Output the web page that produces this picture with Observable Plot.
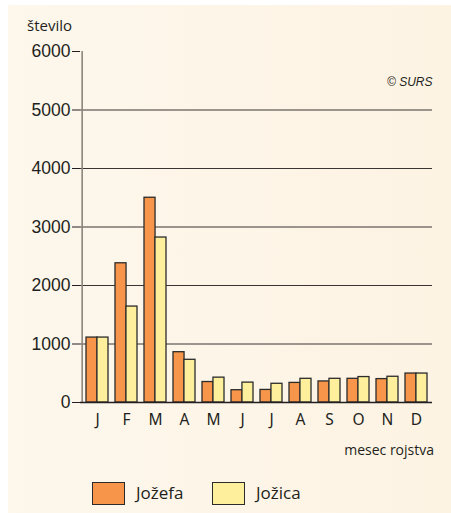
<!DOCTYPE html>
<html>
<head>
<meta charset="utf-8">
<script src="https://cdn.jsdelivr.net/npm/d3@7"></script>
<script src="https://cdn.jsdelivr.net/npm/@observablehq/plot@0.6"></script>
<style>
  html, body { margin: 0; padding: 0; background: #fff; }
  #wrap { position: relative; width: 451px; height: 513px; overflow: hidden; font-family: "Open Sans", "Noto Sans", sans-serif; color: #231f20; }
  #bg { position: absolute; left: 8px; top: 5px; right: 0; bottom: 0; background: linear-gradient(to right, #fdf7ec, #fdf3e3); }
  #chart { position: absolute; left: 0; top: 0; }
  #chart svg { background: transparent !important; }
  .lbl { position: absolute; white-space: nowrap; }
  .sw { position: absolute; width: 31px; height: 21px; border: 1.3px solid #2b2b2b; }
</style>
</head>
<body>
<div id="wrap">
  <div id="bg"></div>
  <div id="chart"></div>
  <div class="lbl" style="left:27px; top:15px; font-size:15px;">število</div>
  <div class="lbl" style="left:387px; top:75px; font-size:12px; font-style:italic; font-family:'Liberation Sans', Arial, sans-serif;">© SURS</div>
  <div class="lbl" style="right:17px; top:440px; font-size:14px;">mesec rojstva</div>
  <div class="sw" style="left:92px; top:482px; background:#f7964a;"></div>
  <div class="lbl" style="left:136px; top:481px; font-size:17px;">Jožefa</div>
  <div class="sw" style="left:212px; top:482px; background:#fdef9c;"></div>
  <div class="lbl" style="left:256px; top:481px; font-size:17px;">Jožica</div>
</div>
<script>
const months = ["J","F","M","A","M","J","J","A","S","O","N","D"];
const jozefa = [1110, 2380, 3500, 860, 350, 210, 215, 335, 360, 405, 400, 495];
const jozica = [1110, 1640, 2820, 730, 425, 340, 320, 405, 405, 435, 440, 495];
const yTicks = [0, 1000, 2000, 3000, 4000, 5000, 6000];
const gridTicks = [1000, 2000, 3000, 4000, 5000];

const width = 451, height = 440;
const mL = 80, mR = 19, mT = 51, mB = 38;
const pInner = 0.25, pOuter = 0.15;
const step = (width - mL - mR) / (months.length - pInner + 2 * pOuter);
const half = step * (1 - pInner) / 2;

const idx = d3.range(months.length);
const dataA = idx.map(i => ({i, v: jozefa[i]}));
const dataB = idx.map(i => ({i, v: jozica[i]}));

const chart = Plot.plot({
  width, height,
  marginLeft: mL, marginRight: mR, marginTop: mT, marginBottom: mB,
  style: {background: "transparent", color: "#231f20"},
  x: {type: "band", domain: idx, paddingInner: pInner, paddingOuter: pOuter, axis: null},
  y: {domain: [0, 6000], axis: null},
  marks: [
    Plot.ruleY(gridTicks, {stroke: "#3a3532", strokeWidth: 1}),
    Plot.ruleX([0], {x: d => d, y1: 0, y2: 6000, dx: -(pOuter * step + half), stroke: "#8c847c", strokeWidth: 1.6}),
    Plot.barY(dataA, {x: "i", y: "v", fill: "#f7964a", stroke: "#2b2b2b", strokeWidth: 1.3, insetRight: half}),
    Plot.barY(dataB, {x: "i", y: "v", fill: "#fdef9c", stroke: "#2b2b2b", strokeWidth: 1.3, insetLeft: half}),
    Plot.ruleY([0], {stroke: "#231f20", strokeWidth: 1.3}),
    Plot.axisY({ticks: yTicks, tickSize: 8, tickPadding: 2, fontSize: 17.5, fontFamily: "'Liberation Sans', Arial, sans-serif", stroke: "#231f20", tickFormat: d => String(d), label: null}),
    Plot.axisX({tickSize: 0, tickPadding: 11, fontSize: 15.5, tickFormat: i => months[i], label: null})
  ]
});
document.getElementById("chart").appendChild(chart);
</script>
</body>
</html>
